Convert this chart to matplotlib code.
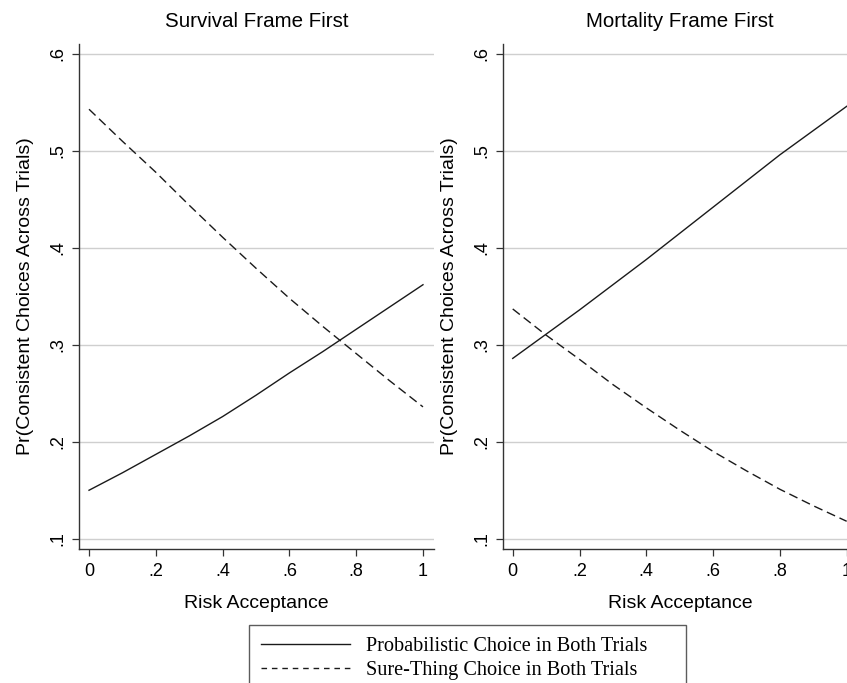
import numpy as np
import matplotlib
matplotlib.use("Agg")
import matplotlib.pyplot as plt
from matplotlib.lines import Line2D

# risk acceptance grid
risk = [0.0, 0.1, 0.2, 0.3, 0.4, 0.5, 0.6, 0.7, 0.8, 0.9, 1.0]

# Survival frame first
surv_prob = [0.150, 0.168, 0.187, 0.206, 0.226, 0.248, 0.271, 0.293, 0.316, 0.339, 0.362]
surv_sure = [0.543, 0.510, 0.478, 0.444, 0.411, 0.379, 0.348, 0.319, 0.291, 0.263, 0.236]

# Mortality frame first
mort_prob = [0.286, 0.311, 0.336, 0.362, 0.388, 0.415, 0.442, 0.469, 0.496, 0.521, 0.546]
mort_sure = [0.337, 0.310, 0.285, 0.259, 0.235, 0.212, 0.190, 0.170, 0.151, 0.134, 0.118]

titles = ["Survival Frame First", "Mortality Frame First"]
yticks = [0.1, 0.2, 0.3, 0.4, 0.5, 0.6]
ytick_labels = [".1", ".2", ".3", ".4", ".5", ".6"]
xticks = [0, 0.2, 0.4, 0.6, 0.8, 1]
xtick_labels = ["0", ".2", ".4", ".6", ".8", "1"]
legend_labels = ["Probabilistic Choice in Both Trials", "Sure-Thing Choice in Both Trials"]

W, H = 847, 683
fig = plt.figure(figsize=(W / 100, H / 100), dpi=100)
plt.rcParams['font.family'] = ['Liberation Sans', 'DejaVu Sans']

line_col = '#1a1a1a'
dash = (6.5, 3.5)
panels = [(surv_prob, surv_sure), (mort_prob, mort_sure)]
lefts = [79, 502.7]

for i, (prob, sure) in enumerate(panels):
    ax = fig.add_axes([lefts[i] / W, 1 - 549 / H, 355 / W, 505 / H])
    ax.plot(risk, prob, color=line_col, lw=1.0)
    ax.plot(risk, sure, color=line_col, lw=1.0, dashes=dash)
    ax.set_xlim(-0.03, 1.033)
    ax.set_ylim(0.0894, 0.6103)
    ax.set_yticks(yticks)
    ax.set_yticklabels(ytick_labels, rotation=90, va='center')
    ax.set_xticks(xticks)
    ax.set_xticklabels(xtick_labels)
    ax.grid(axis='y', color='#cfcfcf', lw=1.0)
    ax.set_axisbelow(True)
    for s in ['top', 'right']:
        ax.spines[s].set_visible(False)
    for s in ['left', 'bottom']:
        ax.spines[s].set_color('#333333')
        ax.spines[s].set_linewidth(1.0)
    ax.tick_params(axis='both', length=5, width=0.9, color='#333333', labelsize=13)
    ax.tick_params(axis='x', pad=5)
    ax.tick_params(axis='y', pad=4)
    ax.set_xlabel("Risk Acceptance", fontsize=14, labelpad=11)
    ax.set_ylabel("Pr(Consistent Choices Across Trials)", fontsize=14, labelpad=11)
    ax.set_title(titles[i], fontsize=14.8, pad=12.5)

handles = [Line2D([], [], color=line_col, lw=1.0),
           Line2D([], [], color=line_col, lw=1.0, dashes=(4, 3.5))]
leg = fig.legend(handles, legend_labels, loc='upper left',
                 bbox_to_anchor=(249 / W, 0, 437 / W, 1 - 625 / H),
                 bbox_transform=fig.transFigure, mode='expand', borderaxespad=0,
                 frameon=True, fancybox=False, edgecolor='#333333',
                 prop={'family': 'Liberation Serif', 'size': 14.6},
                 handlelength=4.4, handletextpad=0.75, borderpad=0.6,
                 labelspacing=0.2)
leg.get_frame().set_linewidth(1.0)

fig.savefig("out.png", dpi=100)
